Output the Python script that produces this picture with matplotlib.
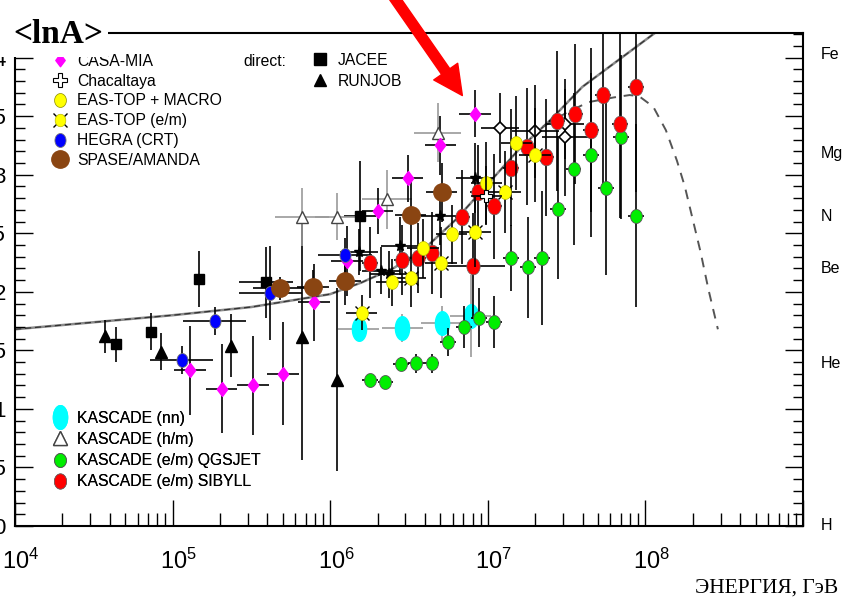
import numpy as np
import matplotlib
matplotlib.use("Agg")
import matplotlib.pyplot as plt
from matplotlib.path import Path
from matplotlib.lines import Line2D
from matplotlib.patches import Rectangle
from matplotlib.transforms import ScaledTranslation
from matplotlib.ticker import MultipleLocator, FuncFormatter, LogLocator, NullFormatter
from matplotlib import font_manager

# ---------------- data: energy [GeV], <lnA>, errors ----------------
# error in lnA is symmetric; energy error is a half width in decades
jacee_E = [4.4e4, 7.3e4, 1.46e5, 3.9e5, 1.55e6]
jacee_lnA = [1.55, 1.66, 2.11, 2.08, 2.65]
jacee_dlnA = [0.15, 0.16, 0.24, 0.30, 0.47]
jacee_dlogE = [0.0, 0.0, 0.0, 0.17, 0.10]

runjob_E = [3.7e4, 8.4e4, 2.36e5, 6.6e5, 1.1e6]
runjob_lnA = [1.62, 1.49, 1.54, 1.61, 1.25]
runjob_dlnA = [0.14, 0.16, 0.27, 1.05, 0.78]
runjob_dlogE = [0.0, 0.0, 0.0, 0.0, 0.0]

casa_E = [1.29e5, 2.05e5, 3.24e5, 5.0e5, 7.9e5, 1.28e6, 2.0e6, 3.1e6, 5.0e6, 8.3e6]
casa_lnA = [1.33, 1.17, 1.20, 1.30, 1.91, 2.26, 2.69, 2.97, 3.25, 3.52]
casa_dlnA = [0.38, 0.38, 0.42, 0.44, 0.33, 0.30, 0.20, 0.20, 0.25, 0.20]
casa_dlogE = [0.10] * 10

hegra_E = [1.14e5, 1.85e5, 4.16e5, 1.24e6]
hegra_lnA = [1.42, 1.75, 1.99, 2.31]
hegra_dlnA = [0.12, 0.12, 0.40, 0.15]
hegra_dlogE = [0.20, 0.20, 0.20, 0.17]

spase_E = [4.8e5, 7.8e5, 1.24e6, 3.24e6, 5.1e6]
spase_lnA = [2.03, 2.04, 2.09, 2.66, 2.85]
spase_dlnA = [0.10, 0.15, 0.20, 0.30, 0.25]
spase_dlogE = [0.17, 0.10, 0.10, 0.10, 0.10]

macro_E = [2.45e6, 3.87e6, 5.9e6, 9.8e6, 1.52e7]
macro_lnA = [2.08, 2.37, 2.49, 2.93, 3.27]
macro_dlnA = [0.20, 0.25, 0.25, 0.35, 0.40]
macro_dlogE = [0.10] * 5

eastop_E = [1.58e6, 3.24e6, 5.03e6, 8.3e6, 1.29e7, 1.99e7]
eastop_lnA = [1.82, 2.12, 2.25, 2.51, 2.85, 3.17]
eastop_dlnA = [0.15, 0.25, 0.30, 0.30, 0.35, 0.40]
eastop_dlogE = [0.10] * 6

chacaltaya_E = [9.8e6]
chacaltaya_lnA = [2.82]
chacaltaya_dlnA = [0.25]
chacaltaya_dlogE = [0.10]

kas_nn_E = [1.52e6, 2.87e6, 5.1e6, 7.8e6]
kas_nn_lnA = [1.68, 1.69, 1.73, 1.79]
kas_nn_dlnA = [0.10, 0.12, 0.15, 0.35]
kas_nn_dlogE = [0.13, 0.13, 0.13, 0.13]

kas_hm_E = [6.6e5, 1.1e6, 2.3e6, 4.8e6]
kas_hm_lnA = [2.64, 2.64, 2.79, 3.36]
kas_hm_dlnA = [0.25, 0.20, 0.25, 0.25]
kas_hm_dlogE = [0.17, 0.14, 0.16, 0.15]

qgs_E = [1.79e6, 2.24e6, 2.8e6, 3.5e6, 4.4e6, 5.6e6, 7.1e6, 8.8e6, 1.1e7,
         1.41e7, 1.79e7, 2.2e7, 2.8e7, 3.5e7, 4.5e7, 5.6e7, 7.0e7, 8.7e7]
qgs_lnA = [1.25, 1.23, 1.38, 1.39, 1.39, 1.57, 1.70, 1.78, 1.74,
           2.29, 2.21, 2.29, 2.71, 3.05, 3.17, 2.89, 3.32, 2.65]
qgs_dlnA = [0.05, 0.05, 0.06, 0.08, 0.08, 0.12, 0.18, 0.25, 0.22,
            0.28, 0.43, 0.57, 0.60, 0.65, 0.70, 0.75, 0.70, 0.78]
qgs_dlogE = [0.05] * 18

sib_E = [1.79e6, 2.87e6, 3.6e6, 4.4e6, 6.9e6, 8.1e6, 8.7e6, 1.1e7, 1.41e7,
         1.78e7, 2.34e7, 2.75e7, 3.6e7, 4.5e7, 5.4e7, 6.9e7, 8.7e7]
sib_lnA = [2.25, 2.27, 2.29, 2.33, 2.64, 2.22, 2.85, 2.73, 3.06,
           3.24, 3.15, 3.46, 3.52, 3.38, 3.68, 3.43, 3.75]
sib_dlnA = [0.30, 0.30, 0.30, 0.35, 0.40, 0.45, 0.40, 0.45, 0.50,
            0.50, 0.50, 0.60, 0.60, 0.70, 0.80, 0.80, 0.90]
sib_dlogE = [0.05, 0.05, 0.05, 0.05, 0.05, 0.20, 0.05, 0.05, 0.05,
             0.05, 0.05, 0.05, 0.05, 0.05, 0.05, 0.05, 0.05]

other_E = [1.52e6, 2.1e6, 2.35e6, 2.76e6, 5.0e6, 8.3e6]
other_lnA = [2.34, 2.18, 2.15, 2.39, 2.65, 2.97]
other_dlnA = [0.20, 0.20, 0.20, 0.25, 0.25, 0.30]
other_dlogE = [0.12, 0.12, 0.12, 0.12, 0.12, 0.12]

otherd_E = [1.2e7, 2.0e7, 3.1e7, 3.1e7]
otherd_lnA = [3.40, 3.37, 3.32, 3.43]
otherd_dlnA = [0.30, 0.40, 0.50, 0.30]
otherd_dlogE = [0.12, 0.15, 0.15, 0.12]

# model lines
fit_log10E = [4.0, 4.5, 5.0, 5.5, 6.0, 6.2, 6.4, 6.6, 6.8, 7.0, 7.2, 7.4, 7.6, 7.8, 8.0, 8.1]
fit_lnA = [1.68, 1.74, 1.80, 1.87, 1.98, 2.08, 2.20, 2.37, 2.62, 2.92, 3.22, 3.47, 3.75, 3.95, 4.15, 4.25]
knee_log10E = [7.35, 7.5, 7.64, 7.8, 7.9, 7.96, 8.05, 8.13, 8.2, 8.25, 8.3, 8.35, 8.4, 8.46]
knee_lnA = [3.41, 3.53, 3.62, 3.66, 3.68, 3.67, 3.58, 3.38, 3.12, 2.90, 2.62, 2.34, 2.02, 1.68]

elements = ["H", "He", "Be", "N", "Mg", "Fe"]
mass_numbers = [1, 4, 9, 14, 24, 56]

# ---------------- fonts ----------------
names = {f.name for f in font_manager.fontManager.ttflist}
NARROW = "Liberation Sans Narrow" in names
SANS = "Liberation Sans Narrow" if NARROW else "Liberation Sans"
LEG_FS = 13 if NARROW else 11.3

plt.rcParams["font.family"] = ["Liberation Sans", "DejaVu Sans"]
plt.rcParams["mathtext.fontset"] = "custom"
plt.rcParams["mathtext.rm"] = "Liberation Sans"
plt.rcParams["mathtext.default"] = "regular"


def ellipse(aspect):
    t = np.linspace(0, 2 * np.pi, 60)
    return Path(np.column_stack([aspect * np.cos(t), np.sin(t)]), closed=True)


def diamond(aspect):
    return Path([(0, 1), (aspect, 0), (0, -1), (-aspect, 0), (0, 1)], closed=True)


RED_M = ellipse(0.8)
GRN_M = ellipse(0.85)
YEL_M = ellipse(0.85)
BLU_M = ellipse(0.8)
CYA_M = ellipse(0.6)
MAG_M = diamond(0.75)

fig = plt.figure(figsize=(8.44, 5.99), dpi=100)
ax = fig.add_axes([15 / 844, 73 / 599, 788 / 844, 493 / 599])
ax.set_xscale("log")
ax.set_xlim(1e4, 1e9)
ax.set_ylim(0, 4.21)


def draw(E, lnA, dlnA, dlogE, ecolor="black", z=3, **kw):
    E = np.asarray(E, float)
    d = np.asarray(dlogE, float)
    xerr = [E - E * 10 ** (-d), E * 10 ** d - E]
    ax.errorbar(E, lnA, yerr=dlnA, xerr=xerr, ls="none", ecolor=ecolor,
                elinewidth=1.2, capsize=0, zorder=z, **kw)


# model curves
ax.plot(10 ** np.asarray(fit_log10E), fit_lnA, color="#8a8a8a", lw=1.8, zorder=1.5)
ax.plot(10 ** np.asarray(fit_log10E), fit_lnA, color="#333333", lw=0.9,
        dashes=(5, 3), zorder=1.6)
ax.plot(10 ** np.asarray(knee_log10E), knee_lnA, color="#555555", lw=1.4,
        dashes=(5, 4), zorder=1.6)

# measurements
draw(jacee_E, jacee_lnA, jacee_dlnA, jacee_dlogE, marker="s", ms=7, mfc="black", mec="black")
draw(runjob_E, runjob_lnA, runjob_dlnA, runjob_dlogE, marker="^", ms=8, mfc="black", mec="black")
draw(kas_hm_E, kas_hm_lnA, kas_hm_dlnA, kas_hm_dlogE, ecolor="#9a9a9a",
     marker="^", ms=9, mfc="white", mec="#444444", mew=1.0)
draw(other_E, other_lnA, other_dlnA, other_dlogE, marker="*", ms=8, mfc="black", mec="black")
draw(otherd_E, otherd_lnA, otherd_dlnA, otherd_dlogE, marker="D", ms=6,
     mfc="white", mec="black", mew=1.2)
draw(casa_E, casa_lnA, casa_dlnA, casa_dlogE, marker=MAG_M, ms=10,
     mfc="#ff00ff", mec="#ff00ff")
draw(hegra_E, hegra_lnA, hegra_dlnA, hegra_dlogE, marker=BLU_M, ms=10,
     mfc="#0000ff", mec="#777777", mew=0.6)
draw(spase_E, spase_lnA, spase_dlnA, spase_dlogE, marker="o", ms=12.5,
     mfc="#8a4512", mec="#8a4512")
draw(kas_nn_E, kas_nn_lnA, kas_nn_dlnA, kas_nn_dlogE, ecolor="#9a9a9a",
     marker=CYA_M, ms=17, mfc="#00ffff", mec="#00ffff")
draw(qgs_E, qgs_lnA, qgs_dlnA, qgs_dlogE, marker=GRN_M, ms=10,
     mfc="#00ee00", mec="#555555", mew=0.6, z=3.2)
draw(sib_E, sib_lnA, sib_dlnA, sib_dlogE, marker=RED_M, ms=12,
     mfc="#ff0000", mec="#666666", mew=0.5, z=3.3)
ax.plot(eastop_E, eastop_lnA, ls="none", marker="x", ms=10, color="black", mew=1.0, zorder=3.35)
draw(eastop_E, eastop_lnA, eastop_dlnA, eastop_dlogE, marker=YEL_M, ms=10,
     mfc="#ffff00", mec="#bbbb00", mew=0.5, z=3.4)
draw(macro_E, macro_lnA, macro_dlnA, macro_dlogE, marker=YEL_M, ms=10,
     mfc="#ffff00", mec="#bbbb00", mew=0.5, z=3.4)
draw(chacaltaya_E, chacaltaya_lnA, chacaltaya_dlnA, chacaltaya_dlogE, marker="P", ms=8,
     mfc="white", mec="black", mew=0.8, z=3.5)

# arrow to the highest CASA-MIA point
ax.annotate("", xy=(casa_E[-1], casa_lnA[-1]), xytext=(-60.5, 87), textcoords="offset points",
            arrowprops=dict(arrowstyle="simple,head_length=0.7,head_width=0.7,tail_width=0.24",
                            color="#ff0000", shrinkA=0, shrinkB=16, mutation_scale=30),
            annotation_clip=False, zorder=6)

# axes styling
for s in ax.spines.values():
    s.set_linewidth(1.5)
ax.yaxis.set_major_locator(MultipleLocator(0.5))
ax.yaxis.set_minor_locator(MultipleLocator(0.1))
ax.yaxis.set_major_formatter(FuncFormatter(lambda v, p: f"{v:g}"))
ax.xaxis.set_major_locator(LogLocator(base=10, numticks=20))
ax.xaxis.set_minor_locator(LogLocator(base=10, subs=np.arange(2, 10), numticks=20))
ax.xaxis.set_major_formatter(FuncFormatter(
    lambda v, p: f"$10^{{{int(round(np.log10(v)))}}}$" if v < 5e8 else ""))
ax.xaxis.set_minor_formatter(NullFormatter())
ax.tick_params(axis="y", which="both", direction="in", left=True, right=True,
               labelright=False, width=1.0)
ax.tick_params(axis="y", which="major", length=13, pad=6.5, labelsize=16)
ax.tick_params(axis="y", which="minor", length=7)
ax.tick_params(axis="x", which="both", direction="in", bottom=True, top=False, width=1.0)
ax.tick_params(axis="x", which="major", length=18.7, pad=16, labelsize=17)
ax.tick_params(axis="x", which="minor", length=9.4)

# exponent labels sit slightly right of their ticks
shift = ScaledTranslation(6 / 100, 0, fig.dpi_scale_trans)
for lbl in ax.get_xticklabels():
    lbl.set_transform(lbl.get_transform() + shift)

ax.set_xlabel("ЭНЕРГИЯ, ГэВ", family=["Liberation Serif"], fontsize=15.5,
              ha="right", va="baseline")
ax.xaxis.set_label_coords(1.044, -0.134)

# element scale on the right
for name, a in zip(elements, mass_numbers):
    ax.text(1.0225, np.log(a), name, transform=ax.get_yaxis_transform(),
            ha="left", va="center", fontsize=11.5, family=SANS)


# legends
def frac(px, py):
    return (px - 15) / 788, (526 - py) / 493


fs_px = LEG_FS * 100 / 72
text_h = 1.16 * fs_px


def add_legend(handles, labels, x_marker, y_first, spacing):
    lx, ly = frac(x_marker - 0.5 * fs_px, y_first - text_h / 2)
    leg = ax.legend(handles, labels, loc="upper left", bbox_to_anchor=(lx, ly),
                    frameon=False, handlelength=1.0, handletextpad=0.6,
                    labelspacing=max(spacing - text_h, 0) / fs_px, borderpad=0,
                    borderaxespad=0, prop={"family": SANS, "size": LEG_FS})
    ax.add_artist(leg)
    return leg


def h(**kw):
    return Line2D([], [], ls="none", **kw)


add_legend(
    [h(marker=MAG_M, ms=9, mfc="#ff00ff", mec="#ff00ff"),
     h(marker="P", ms=10, mfc="white", mec="black", mew=0.8),
     h(marker=YEL_M, ms=10, mfc="#ffff00", mec="#888800", mew=0.5),
     (h(marker="x", ms=10, color="black", mew=1.0),
      h(marker=YEL_M, ms=9, mfc="#ffff00", mec="#bbbb00", mew=0.5)),
     h(marker=BLU_M, ms=10, mfc="#0000ff", mec="#777777", mew=0.6),
     h(marker="o", ms=12.5, mfc="#8a4512", mec="#8a4512")],
    ["CASA-MIA", "Chacaltaya", "EAS-TOP + MACRO", "EAS-TOP (e/m)", "HEGRA (CRT)", "SPASE/AMANDA"],
    60, 63, 23)

add_legend(
    [h(marker="s", ms=8, mfc="black", mec="black"),
     h(marker="^", ms=9, mfc="black", mec="black")],
    ["JACEE", "RUNJOB"], 320, 62, 24)

add_legend(
    [h(marker=CYA_M, ms=17, mfc="#00ffff", mec="#00ffff"),
     h(marker="^", ms=10, mfc="white", mec="#444444", mew=1.0),
     h(marker=GRN_M, ms=10, mfc="#00ee00", mec="#555555", mew=0.6),
     h(marker=RED_M, ms=11, mfc="#ff0000", mec="#666666", mew=0.5)],
    ["KASCADE (nn)", "KASCADE (h/m)", "KASCADE (e/m) QGSJET", "KASCADE (e/m) SIBYLL"],
    60, 420, 24.3)

dx, dy = frac(243, 62)
ax.text(dx, dy, "direct:", transform=ax.transAxes, ha="left", va="center",
        fontsize=LEG_FS, family=SANS)

# title block in the top-left corner
fig.patches.append(Rectangle((0, 1 - 57 / 599), 108 / 844, 57 / 599, transform=fig.transFigure,
                             facecolor="white", edgecolor="none", zorder=5))
fig.text(13 / 844, 1 - 43 / 599, "<lnA>", family=["Liberation Serif"], weight="bold",
         fontsize=24, ha="left", va="baseline", zorder=6)

fig.savefig("out.png", dpi=100)
